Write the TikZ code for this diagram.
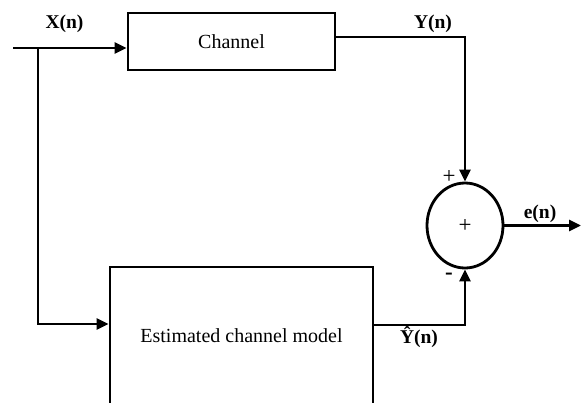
\documentclass[tikz,border=0pt]{standalone}
\usepackage{fontspec}
\setmainfont{Liberation Serif}
\usetikzlibrary{shapes.geometric,arrows.meta}
\begin{document}
\begin{tikzpicture}[x=1pt,y=-1pt,
  line width=2.8pt,
  blk/.style={draw, line width=2.8pt, inner sep=0pt, font=\fontsize{20}{22}\selectfont},
  lbl/.style={font=\fontsize{19.5}{22}\selectfont\bfseries, inner sep=0pt, anchor=base},
  sgn/.style={font=\fontsize{23}{24}\selectfont, inner sep=0pt},
  sig/.style={-{Triangle[length=12pt,width=11pt]}},
]
\useasboundingbox (0,0) rectangle (583,402);
\clip (0,0) rectangle (583,402);
% blocks
\node[blk, minimum width=207, minimum height=57] (ch) at (231.5,41.5) {Channel};
\node[blk, minimum width=263, minimum height=138] (est) at (241.5,336) {Estimated channel model};
\node[draw, ellipse, line width=2.8pt, minimum width=76, minimum height=85, inner sep=0pt,
      font=\fontsize{23}{24}\selectfont] (sum) at (465,225.5) {+};
% coordinates
\coordinate (in) at (13,48);
\coordinate (br) at (38,48);
\coordinate (b2) at (38,324);
\coordinate (yo) at (465,37);
\coordinate (yh) at (465,325);
\coordinate (eo) at (581,225.5);
% connectors
\draw[sig] (in) -- (in -| ch.west);
\draw[sig] (br) -- (b2) -- (b2 -| est.west);
\draw[sig] (ch.east |- yo) -- (yo) -- (sum.north);
\draw[sig] (est.east |- yh) -- (yh) -- (sum.south);
\draw[sig] (sum.east) -- (eo);
% labels
\node[lbl] (lx) at (64.5,28) {X(n)};
\node[lbl] (ly) at (433,28) {Y(n)};
\node[lbl] (le) at (540,218) {e(n)};
\node[lbl] (lyh) at (419,343) {Ŷ(n)};
\node[sgn] (lp) at (449,177) {+};
\node[sgn, font=\fontsize{23}{24}\selectfont\bfseries] (lm) at (449,276) {-};
\end{tikzpicture}
\end{document}
